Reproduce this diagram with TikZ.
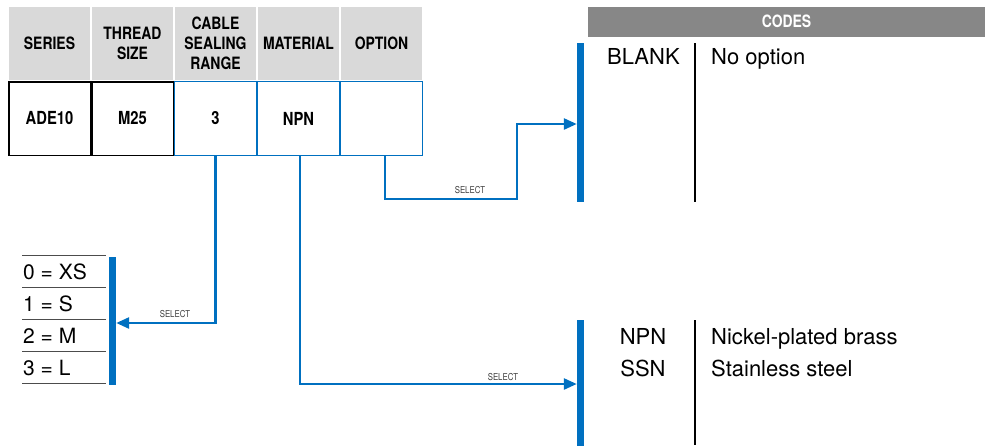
\documentclass[tikz,border=0pt]{standalone}
\usepackage{fontspec}
\setmainfont{TeX Gyre Heros}
\newfontfamily\condf[FakeStretch=0.82]{TeX Gyre Heros}
\usetikzlibrary{arrows.meta,calc}
\definecolor{myblue}{HTML}{0070C0}
\definecolor{hdrgray}{HTML}{D9D9D9}
\definecolor{codegray}{HTML}{878787}
\definecolor{selgray}{HTML}{404040}
\begin{document}
\begin{tikzpicture}[x=1pt,y=-1pt,
  hdr/.style={fill=hdrgray, draw=white, line width=1.5pt, minimum width=83pt, minimum height=75pt,
    inner sep=0pt, align=center, font=\condf\bfseries\fontsize{17}{20}\selectfont},
  cellk/.style={draw=black, line width=1.5pt, minimum width=81.5pt, minimum height=73.5pt,
    inner sep=0pt, font=\condf\bfseries\fontsize{18}{20}\selectfont},
  cellb/.style={draw=myblue, line width=1pt, minimum width=82pt, minimum height=74pt,
    inner sep=0pt, font=\condf\bfseries\fontsize{18}{20}\selectfont},
  bar/.style={fill=myblue, draw=none, minimum width=7pt, inner sep=0pt},
  conn/.style={draw=myblue, line width=2.6pt, -{Triangle[length=13pt,width=11pt]}},
  sel/.style={font=\condf\fontsize{9.5}{11}\selectfont, text=selgray, inner sep=0pt},
  code/.style={font=\fontsize{22}{26}\selectfont, inner sep=0pt},
  lst/.style={font=\fontsize{21}{25}\selectfont, inner sep=0pt},
  divider/.style={draw=black, line width=1.6pt},
  rule/.style={draw=black!70, line width=1pt}
]
\useasboundingbox (0,0) rectangle (985,445);

% header row
\node[hdr] (h1) at (49.5,43.5) {SERIES};
\node[hdr] (h2) at (132.5,43.5) {THREAD\\SIZE};
\node[hdr] (h3) at (215.5,43.5) {CABLE\\SEALING\\RANGE};
\node[hdr] (h4) at (298.5,43.5) {MATERIAL};
\node[hdr] (h5) at (381.5,43.5) {OPTION};

% data row
\node[cellk] (d1) at (49.5,118.5) {ADE10};
\node[cellk] (d2) at (132.5,118.5) {M25};
\node[cellb] (d3) at (215.5,118.5) {3};
\node[cellb] (d4) at (298.5,118.5) {NPN};
\node[cellb] (d5) at (381.5,118.5) {};

% codes header
\node[fill=codegray, minimum width=397pt, minimum height=30pt, inner sep=0pt,
  text=white, font=\condf\bfseries\fontsize{17}{20}\selectfont] (codes) at (786.5,21.5) {CODES};

% bars
\node[bar, minimum height=159pt] (b1) at (580.5,122.5) {};
\node[bar, minimum height=126pt] (b2) at (580.5,383) {};
\node[bar, minimum height=128pt] (b3) at (112.5,321) {};

% option codes
\draw[divider] (695,43) -- (695,202);
\node[code, anchor=base west] (blank) at (607,64) {BLANK};
\node[code, anchor=base west] (noopt) at (711,64) {No option};

% material codes
\draw[divider] (695,320) -- (695,445);
\node[code, anchor=base] (npn) at (643,344) {NPN};
\node[code, anchor=base] (ssn) at (643,376) {SSN};
\node[code, anchor=base west] (npnd) at (711,344) {Nickel-plated brass};
\node[code, anchor=base west] (ssnd) at (711,376) {Stainless steel};

% cable sealing range list
\foreach \yy in {255,287,319,351,383} \draw[rule] (22,\yy) -- (106,\yy);
\node[lst, anchor=base west] (r0) at (23,279) {0 = XS};
\node[lst, anchor=base west] (r1) at (23,311) {1 = S};
\node[lst, anchor=base west] (r2) at (23,343) {2 = M};
\node[lst, anchor=base west] (r3) at (23,375) {3 = L};

% connectors
\coordinate (c1) at (517,199);
\draw[conn] ($(d5.south)+(3.5,0)$) |- (c1) |- ($(b1.west)+(0,1.5)$);
\draw[conn] ($(d4.south)+(1.5,0)$) |- ($(b2.west)+(0,1)$);
\draw[conn] ($(d3.south)+(0,0)$) |- ($(b3.east)+(0,2)$);

\node[sel] (s1) at (470,190) {SELECT};
\node[sel] (s2) at (503,377) {SELECT};
\node[sel] (s3) at (175,314) {SELECT};
\end{tikzpicture}
\end{document}
